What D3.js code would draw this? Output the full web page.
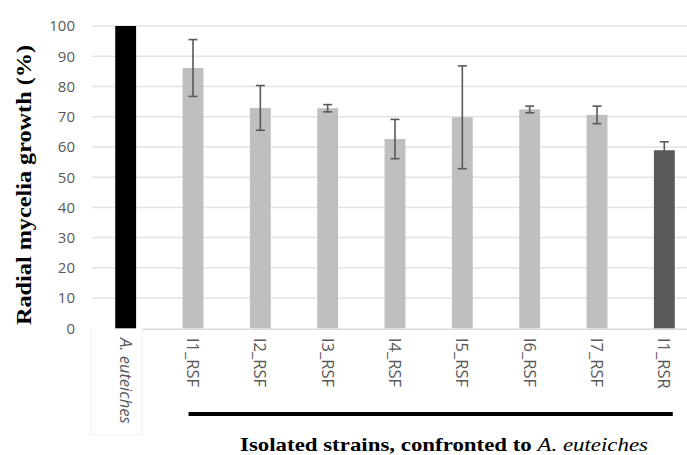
<!DOCTYPE html>
<html><head><meta charset="utf-8">
<script src="https://cdn.jsdelivr.net/npm/d3@7"></script>
<style>html,body{margin:0;padding:0;background:#fff;}svg{display:block;}</style>
</head><body>
<svg id="chart" width="687" height="455"></svg>
<script>
const categories = ["A. euteiches","I1_RSF","I2_RSF","I3_RSF","I4_RSF","I5_RSF","I6_RSF","I7_RSF","I1_RSR"];
const values = [100, 86.1, 72.9, 72.8, 62.6, 69.8, 72.4, 70.6, 58.9];
const errors = [0, 9.4, 7.4, 1.2, 6.5, 17.0, 1.1, 2.9, 2.8];
const barColors = ["#000000","#bfbfbf","#bfbfbf","#bfbfbf","#bfbfbf","#bfbfbf","#bfbfbf","#bfbfbf","#595959"];
const yTicks = [0,10,20,30,40,50,60,70,80,90,100];

const svg = d3.select("#chart");
const W = 687, H = 455;
const x = d3.scaleBand().domain(categories).range([92, 698]).paddingInner(0.69).paddingOuter(0.345);
const y = d3.scaleLinear().domain([0, 100]).range([328.3, 26]);

// gridlines
svg.append("g").selectAll("line").data(yTicks.filter(d => d > 0)).join("line")
  .attr("x1", 92).attr("x2", W).attr("y1", d => y(d)).attr("y2", d => y(d))
  .attr("stroke", "#e3e3e3").attr("stroke-width", 1.5);

// faint label box for first category
svg.append("path")
  .attr("d", `M${91},${y(0)} V435 H142 V${y(0)}`)
  .attr("fill", "none").attr("stroke", "#f0f0f0").attr("stroke-width", 1);
// x axis line
svg.append("line").attr("x1", 143).attr("x2", W).attr("y1", y(0)+1).attr("y2", y(0)+1)
  .attr("stroke", "#d9d9d9").attr("stroke-width", 1.5);

// bars
svg.append("g").selectAll("rect").data(categories).join("rect")
  .attr("x", d => x(d)).attr("width", x.bandwidth())
  .attr("y", (d,i) => y(values[i])).attr("height", (d,i) => y(0) - y(values[i]))
  .attr("fill", (d,i) => barColors[i]);

// error bars
const eg = svg.append("g").attr("stroke", "#595959").attr("stroke-width", 1.6);
categories.forEach((c, i) => {
  if (!errors[i]) return;
  const cx = x(c) + x.bandwidth()/2;
  const y1 = y(values[i] + errors[i]), y2 = y(values[i] - errors[i]);
  eg.append("line").attr("x1", cx).attr("x2", cx).attr("y1", y1).attr("y2", y2);
  eg.append("line").attr("x1", cx-4.5).attr("x2", cx+4.5).attr("y1", y1).attr("y2", y1);
  eg.append("line").attr("x1", cx-4.5).attr("x2", cx+4.5).attr("y1", y2).attr("y2", y2);
});

// y tick labels
svg.append("g").selectAll("text").data(yTicks).join("text")
  .attr("x", 75).attr("y", d => y(d)).attr("dy", "0.36em")
  .attr("text-anchor", "end")
  .attr("font-family", "'Open Sans', sans-serif").attr("font-size", 15)
  .attr("fill", "#595959").text(d => d);

// x tick labels (rotated)
svg.append("g").selectAll("text").data(categories).join("text")
  .attr("transform", d => `translate(${x(d) + x.bandwidth()/2},338) rotate(90)`)
  .attr("dy", "0.36em")
  .attr("font-family", "'Open Sans', sans-serif").attr("font-size", 16.5)
  .attr("font-style", (d,i) => i === 0 ? "italic" : "normal")
  .attr("fill", "#595959").text(d => d);

// y axis title
svg.append("text")
  .attr("transform", "translate(31,185) rotate(-90)")
  .attr("text-anchor", "middle")
  .attr("font-family", "'Liberation Serif', serif").attr("font-weight", "bold").attr("font-size", 22)
  .attr("textLength", 280).attr("lengthAdjust", "spacingAndGlyphs")
  .attr("fill", "#000").text("Radial mycelia growth (%)");

// bracket line under strain labels
svg.append("line")
  .attr("x1", x("I1_RSF") + 6).attr("x2", x("I1_RSR") + x.bandwidth() - 2)
  .attr("y1", 414).attr("y2", 414).attr("stroke", "#000").attr("stroke-width", 4);

// bottom title
const bt = svg.append("text").attr("x", 240).attr("y", 451)
  .attr("font-family", "'Liberation Serif', serif").attr("font-size", 19.5).attr("fill", "#000")
  .attr("textLength", 408).attr("lengthAdjust", "spacingAndGlyphs");
bt.append("tspan").attr("font-weight", "bold").text("Isolated strains, confronted to ");
bt.append("tspan").attr("font-style", "italic").text("A. euteiches");
</script>
</body></html>
